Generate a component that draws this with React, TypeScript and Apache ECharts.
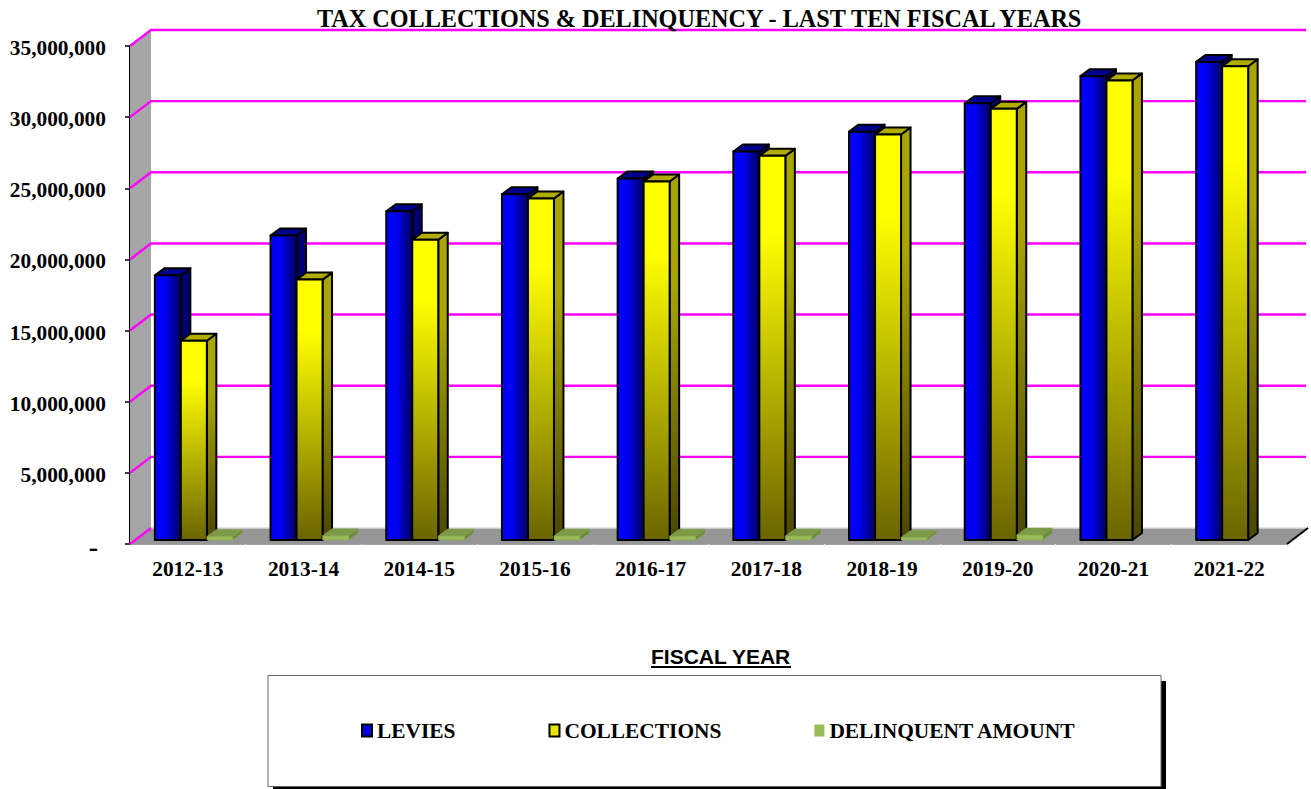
import React, { useEffect, useRef } from "react";
import * as echarts from "echarts";

const fiscalYears = ["2012-13", "2013-14", "2014-15", "2015-16", "2016-17", "2017-18", "2018-19", "2019-20", "2020-21", "2021-22"];
const levies = [18600000, 21400000, 23100000, 24300000, 25400000, 27300000, 28700000, 30700000, 32600000, 33600000];
const collections = [14000000, 18300000, 21100000, 24000000, 25200000, 27000000, 28500000, 30300000, 32300000, 33300000];
const delinquent = [250000, 300000, 280000, 280000, 270000, 280000, 180000, 350000, 0, 0];
const gridValues = [0, 5000000, 10000000, 15000000, 20000000, 25000000, 30000000, 35000000];

const SERIF = '"Liberation Serif", "Times New Roman", serif';
const SANS = '"Liberation Sans", Arial, sans-serif';

// Pseudo-3D depth of the chart box and of each column, in pixels.
const WALL_DX = 21;
const WALL_DY = -16;
const BAR_DX = 9.5;
const BAR_DY = -7;
const BAR_W = 26;
const BAR_LIFT = 4;

type BarLook = { front: any; side: any; top: string; stroke: string; lineWidth: number };

const linear = (x2: number, y2: number, stops: [number, string][]) =>
  new echarts.graphic.LinearGradient(0, 0, x2, y2, stops.map(([offset, color]) => ({ offset, color })));

const leviesLook: BarLook = {
  front: linear(1, 0, [[0, "#0000ff"], [0.4, "#0000f0"], [1, "#00005c"]]),
  side: "#000070",
  top: "#000090",
  stroke: "#000000",
  lineWidth: 2,
};
const collectionsLook: BarLook = {
  front: linear(0, 1, [[0, "#ffff00"], [0.2, "#ffff00"], [1, "#6b6400"]]),
  side: linear(0, 1, [[0, "#a8a400"], [0.3, "#a8a400"], [1, "#4a4600"]]),
  top: "#b0ac00",
  stroke: "#000000",
  lineWidth: 2,
};
const delinquentLook: BarLook = {
  front: "#9bbb59",
  side: "#6f8a3e",
  top: "#7c9a48",
  stroke: "#8aa650",
  lineWidth: 0.5,
};

// Draws a column as three polygons: front, right side and top.
const columnSeries = (name: string, values: number[], offset: number, look: BarLook) => ({
  type: "custom",
  name,
  z: 5,
  data: values.map((v, i) => [i, v]),
  itemStyle: { color: "#000" },
  renderItem: (_: any, api: any) => {
    const v = api.value(1);
    if (!v) return { type: "group", children: [] };
    const base = api.coord([api.value(0), 0]);
    const head = api.coord([api.value(0), v]);
    const l = base[0] + offset;
    const r = l + BAR_W;
    const b = base[1] - BAR_LIFT;
    const t = head[1] - BAR_LIFT;
    const common = { stroke: look.stroke, lineWidth: look.lineWidth, lineJoin: "round" };
    const poly = (points: number[][], fill: any) => ({ type: "polygon", shape: { points }, style: { fill, ...common } });
    return {
      type: "group",
      children: [
        poly([[r, b], [r + BAR_DX, b + BAR_DY], [r + BAR_DX, t + BAR_DY], [r, t]], look.side),
        poly([[l, t], [l + BAR_DX, t + BAR_DY], [r + BAR_DX, t + BAR_DY], [r, t]], look.top),
        poly([[l, b], [r, b], [r, t], [l, t]], look.front),
      ],
    };
  },
});

// Side wall and floor of the chart box.
const boxSeries = {
  type: "custom",
  name: "box",
  z: 1,
  silent: true,
  data: [[0]],
  renderItem: (params: any, api: any) => {
    const grid = params.coordSys;
    const x0 = grid.x;
    const x1 = grid.x + grid.width;
    const y0 = api.coord([0, 0])[1];
    const yTop = api.coord([0, gridValues[gridValues.length - 1]])[1];
    return {
      type: "group",
      children: [
        { type: "polygon", shape: { points: [[x0, y0], [x0, yTop], [x0 + WALL_DX, yTop + WALL_DY], [x0 + WALL_DX, y0 + WALL_DY]] }, style: { fill: "#a6a6a6" } },
        { type: "polygon", shape: { points: [[x0, y0], [x0 + WALL_DX, y0 + WALL_DY], [x1 + WALL_DX, y0 + WALL_DY], [x1, y0]] }, style: { fill: "#969696" } },
        { type: "line", shape: { x1: x0 + WALL_DX, y1: y0 + WALL_DY, x2: x1 + WALL_DX, y2: y0 + WALL_DY }, style: { stroke: "#dcdcdc", lineWidth: 1.5 } },
        { type: "line", shape: { x1, y1: y0, x2: x1 + WALL_DX, y2: y0 + WALL_DY }, style: { stroke: "#000", lineWidth: 2 } },
      ],
    };
  },
};

// Magenta gridlines: diagonal across the side wall, then along the back wall.
const gridSeries = {
  type: "custom",
  name: "gridlines",
  z: 2,
  silent: true,
  data: gridValues.map((v) => [0, v]),
  renderItem: (params: any, api: any) => {
    const grid = params.coordSys;
    const x0 = grid.x;
    const x1 = grid.x + grid.width;
    const y = api.coord([0, api.value(1)])[1];
    const points = api.value(1) === 0
      ? [[x0, y], [x0 + WALL_DX, y + WALL_DY]]
      : [[x0, y], [x0 + WALL_DX, y + WALL_DY], [x1 + WALL_DX - 2, y + WALL_DY]];
    return { type: "polyline", shape: { points }, style: { stroke: "#ff00ff", lineWidth: 2.4, fill: "none" } };
  },
};

const axisFont = { fontFamily: SERIF, fontWeight: "bold" as const, fontSize: 21.4, color: "#000" };

export default function App() {
  const ref = useRef<HTMLDivElement>(null);

  useEffect(() => {
    document.body.style.margin = "0";
    const chart = echarts.init(ref.current!, undefined, { renderer: "svg" });
    chart.setOption({
      animation: false,
      backgroundColor: "#ffffff",
      title: [
        {
          text: "TAX COLLECTIONS & DELINQUENCY - LAST TEN FISCAL YEARS",
          left: 317,
          top: 6,
          padding: 0,
          textStyle: { fontFamily: SERIF, fontWeight: "bold", fontSize: 24.2, color: "#000" },
        },
        {
          text: "FISCAL YEAR",
          left: 651,
          top: 646,
          padding: 0,
          textStyle: { fontFamily: SANS, fontWeight: "bold", fontSize: 21, color: "#000" },
        },
      ],
      grid: { left: 130, right: 24, top: 46, bottom: 245, containLabel: false },
      xAxis: {
        type: "category",
        data: fiscalYears,
        axisLine: { lineStyle: { color: "#a0a0a0", width: 2 } },
        axisTick: { show: true, length: 3, lineStyle: { color: "#e8e8e8", width: 1 } },
        axisLabel: { ...axisFont, margin: 14 },
      },
      yAxis: {
        type: "value",
        min: 0,
        max: 35000000,
        interval: 5000000,
        splitLine: { show: false },
        axisLine: { show: true, lineStyle: { color: "#000", width: 2 } },
        axisTick: { show: true, length: 5, lineStyle: { color: "#000", width: 1.5 } },
        axisLabel: {
          ...axisFont,
          margin: 24,
          padding: [4, 0, 0, 0],
          formatter: (v: number) => (v === 0 ? "{dash|-}" : v.toLocaleString("en-US")),
          rich: { dash: { ...axisFont, fontSize: 28, padding: [0, 8, 0, 0] } },
        },
      },
      legend: {
        left: 361,
        top: 720,
        padding: 0,
        itemGap: 93,
        itemWidth: 10,
        itemHeight: 12,
        icon: "rect",
        selectedMode: false,
        textStyle: { ...axisFont },
        data: [
          { name: "LEVIES", itemStyle: { color: "#0000e0", borderColor: "#000", borderWidth: 2 } },
          { name: "COLLECTIONS", itemStyle: { color: "#e6e600", borderColor: "#000", borderWidth: 2 } },
          { name: "DELINQUENT AMOUNT", itemStyle: { color: "#9bbb59", borderWidth: 0 } },
        ],
      },
      graphic: [
        { type: "rect", z: 0, shape: { x: 273, y: 681, width: 893, height: 108 }, style: { fill: "#000" } },
        { type: "rect", z: 1, shape: { x: 268, y: 675.5, width: 893, height: 111 }, style: { fill: "#fff", stroke: "#666", lineWidth: 1 } },
        { type: "line", z: 1, shape: { x1: 651, y1: 667, x2: 791, y2: 667 }, style: { stroke: "#000", lineWidth: 2 } },
      ],
      series: [
        boxSeries,
        gridSeries,
        columnSeries("LEVIES", levies, -33, leviesLook),
        columnSeries("COLLECTIONS", collections, -7, collectionsLook),
        columnSeries("DELINQUENT AMOUNT", delinquent, 19, delinquentLook),
      ],
    });
    return () => chart.dispose();
  }, []);

  return <div ref={ref} style={{ width: 1311, height: 789, overflow: "hidden" }} />;
}
